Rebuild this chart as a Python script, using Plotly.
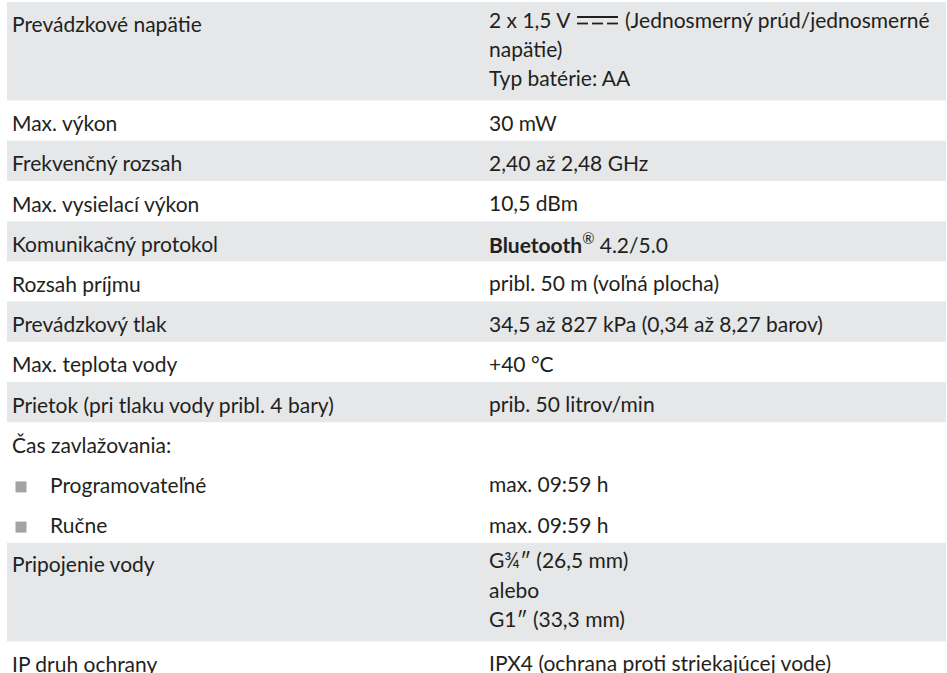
import plotly.graph_objects as go

# ---- table content ----
row_labels = [
    "Prevádzkové napätie",
    "Max. výkon",
    "Frekvenčný rozsah",
    "Max. vysielací výkon",
    "Komunikačný protokol",
    "Rozsah príjmu",
    "Prevádzkový tlak",
    "Max. teplota vody",
    "Prietok (pri tlaku vody pribl. 4 bary)",
    "Čas zavlažovania:",
    "Programovateľné",
    "Ručne",
    "Pripojenie vody",
    "IP druh ochrany",
]
DC_SYMBOL = "⎓"
row_values = [
    ["2 x 1,5 V ⎓ (Jednosmerný prúd/jednosmerné", "napätie)", "Typ batérie: AA"],
    ["30 mW"],
    ["2,40 až 2,48 GHz"],
    ["10,5 dBm"],
    ["<b>Bluetooth</b><sup>®</sup> 4.2/5.0"],
    ["pribl. 50 m (voľná plocha)"],
    ["34,5 až 827 kPa (0,34 až 8,27 barov)"],
    ["+40 °C"],
    ["prib. 50 litrov/min"],
    [""],
    ["max. 09:59 h"],
    ["max. 09:59 h"],
    ["G¾″ (26,5 mm)", "alebo", "G1″ (33,3 mm)"],
    ["IPX4 (ochrana proti striekajúcej vode)"],
]
row_bullet = [False] * 10 + [True, True] + [False, False]
row_shaded = [True, False, True, False, True, False, True, False, True,
              False, False, False, True, False]

# ---- styling / geometry ----
W, H = 947, 673
TOP = 2.0
ROW_H = 40.2
LINE_H = 29.2
SHADE = "#e6e7e8"
TXT = "#231f20"
BULLET = "#a3a3a3"
FONT = "Lato"
FS = 21
X_LEFT = 10
X_BULLET_TEXT = 48
X_BULLET = 21
X_RIGHT = 487
SHADE_X0, SHADE_X1 = 7, 946
MID_OFF = 7.5  # baseline -> text middle
DC_X0, DC_X1, DC_AFTER = 577, 618, 623  # DC symbol glyph box and following text


def txt(x, y, s):
    return dict(x=x, y=y, xref="x", yref="y", text=s, showarrow=False,
                xanchor="left", yanchor="middle",
                font=dict(family=FONT, size=FS, color=TXT))


shapes = []
annotations = []
bx, by = [], []
y = TOP
for lab, vals, bul, sh in zip(row_labels, row_values, row_bullet, row_shaded):
    n = len(vals)
    h = ROW_H + LINE_H * (n - 1)
    if sh:
        shapes.append(dict(type="rect", xref="x", yref="y", x0=SHADE_X0, x1=SHADE_X1,
                           y0=y, y1=y + h, fillcolor=SHADE, line_width=0, layer="below"))
    base_left = y + 29.5 if n == 1 else y + 28.5
    base_right = y + 29.0 if n == 1 else y + 24.5
    annotations.append(txt(X_BULLET_TEXT if bul else X_LEFT, base_left - MID_OFF, lab))
    if bul:
        bx.append(X_BULLET)
        by.append(base_left - 5)
    for i, v in enumerate(vals):
        if not v:
            continue
        yb = base_right + i * LINE_H
        if DC_SYMBOL in v:
            pre, post = [p.strip() for p in v.split(DC_SYMBOL)]
            annotations.append(txt(X_RIGHT, yb - MID_OFF, pre))
            annotations.append(txt(DC_AFTER, yb - MID_OFF, post))
            # direct-current symbol: solid bar over three dashes
            shapes.append(dict(type="line", xref="x", yref="y", x0=DC_X0, x1=DC_X1,
                               y0=yb - 9.5, y1=yb - 9.5, line=dict(color=TXT, width=1.8)))
            seg = (DC_X1 - DC_X0 - 8) / 3
            for k in range(3):
                x0 = DC_X0 + k * (seg + 4)
                shapes.append(dict(type="line", xref="x", yref="y", x0=x0, x1=x0 + seg,
                                   y0=yb - 3, y1=yb - 3, line=dict(color=TXT, width=1.8)))
        else:
            annotations.append(txt(X_RIGHT, yb - MID_OFF, v))
    y += h

fig = go.Figure()
fig.add_trace(go.Scatter(x=bx, y=by, mode="markers",
                         marker=dict(symbol="square", size=11, color=BULLET,
                                     line_width=0),
                         hoverinfo="skip", showlegend=False))
fig.update_layout(
    width=W, height=H,
    margin=dict(l=0, r=0, t=0, b=0),
    paper_bgcolor="white", plot_bgcolor="white",
    xaxis=dict(range=[0, W], visible=False, fixedrange=True),
    yaxis=dict(range=[H, 0], visible=False, fixedrange=True),
    shapes=shapes,
    annotations=annotations,
    showlegend=False,
)
fig.write_html("out.html", config={"displayModeBar": False},
               post_script="document.body.style.margin='0';document.body.style.overflow='hidden';")
